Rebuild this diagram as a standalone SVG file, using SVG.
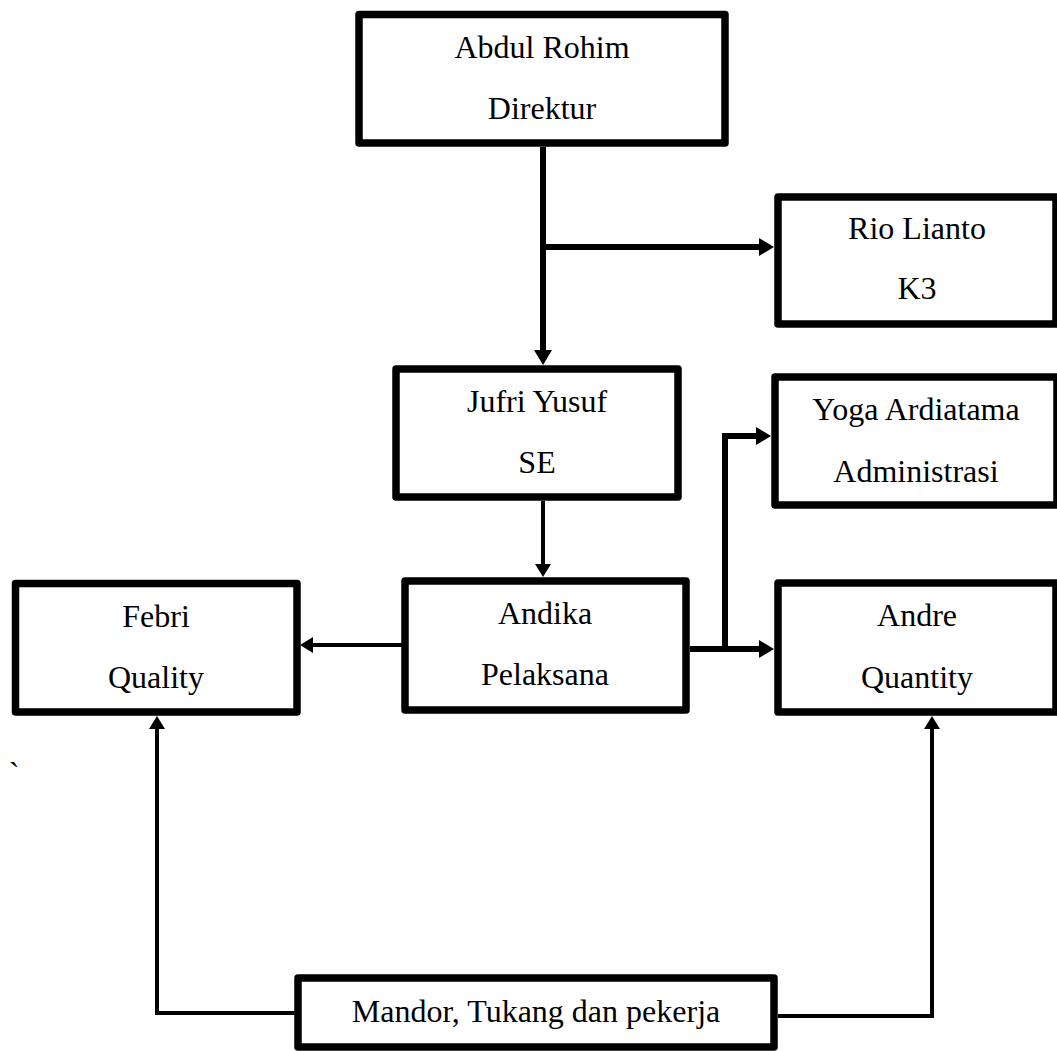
<svg xmlns="http://www.w3.org/2000/svg" width="1057" height="1051" viewBox="0 0 1057 1051">
<style>
.box{fill:#fff;stroke:#000;stroke-width:7.5;stroke-linejoin:round}
.t{font-family:"Liberation Serif","Times New Roman",serif;font-size:32px;fill:#000;text-anchor:middle}
.c{fill:none;stroke:#000;stroke-linejoin:miter}
.thick{stroke-width:6}
.thin{stroke-width:4}
</style>
<defs>
<marker id="ah" markerUnits="userSpaceOnUse" viewBox="0 0 15 18" refX="5" refY="9" markerWidth="15" markerHeight="18" orient="auto"><path d="M0,0 L15,9 L0,18 Z" fill="#000"/></marker>
<marker id="ahs" markerUnits="userSpaceOnUse" viewBox="0 0 13 16" refX="4" refY="8" markerWidth="13" markerHeight="16" orient="auto"><path d="M0,0 L13,8 L0,16 Z" fill="#000"/></marker>
</defs>
<rect width="1057" height="1051" fill="#fff"/>
<g id="connectors">
<path class="c thick" d="M543,147 V355" marker-end="url(#ah)"/>
<path class="c thick" d="M543,247 H764" marker-end="url(#ah)"/>
<path class="c thin" d="M543,501 V568" marker-end="url(#ahs)"/>
<path class="c thin" d="M402,645 H309" marker-end="url(#ahs)"/>
<path class="c thick" d="M690,649 H764" marker-end="url(#ah)"/>
<path class="c thick" d="M725,652 V436 H761" marker-end="url(#ah)"/>
<path class="c thin" d="M295,1013 H157 V725" marker-end="url(#ahs)"/>
<path class="c thin" d="M778,1016 H932 V725" marker-end="url(#ahs)"/>
</g>
<g id="abdul">
<rect class="box" x="359" y="14.5" width="366" height="128.5"/>
<text class="t" x="542" y="58">Abdul Rohim</text>
<text class="t" x="542" y="119">Direktur</text>
</g>
<g id="rio">
<rect class="box" x="778" y="197" width="278" height="127"/>
<text class="t" x="917" y="239">Rio Lianto</text>
<text class="t" x="917" y="299">K3</text>
</g>
<g id="jufri">
<rect class="box" x="396" y="369" width="282" height="128"/>
<text class="t" x="537" y="412">Jufri Yusuf</text>
<text class="t" x="537" y="473">SE</text>
</g>
<g id="yoga">
<rect class="box" x="775" y="377" width="282" height="128"/>
<text class="t" x="916" y="420">Yoga Ardiatama</text>
<text class="t" x="916" y="482">Administrasi</text>
</g>
<g id="febri">
<rect class="box" x="15.5" y="583.5" width="281.5" height="128.5"/>
<text class="t" x="156" y="627">Febri</text>
<text class="t" x="156" y="688">Quality</text>
</g>
<g id="andika">
<rect class="box" x="405" y="581" width="281" height="129"/>
<text class="t" x="545" y="624">Andika</text>
<text class="t" x="545" y="685">Pelaksana</text>
</g>
<g id="andre">
<rect class="box" x="778" y="583" width="278" height="129"/>
<text class="t" x="917" y="626">Andre</text>
<text class="t" x="917" y="688">Quantity</text>
</g>
<g id="mandor">
<rect class="box" x="298" y="978" width="476" height="69"/>
<text class="t" x="536" y="1022">Mandor, Tukang dan pekerja</text>
</g>
<text class="t" x="14" y="784">`</text>
</svg>
